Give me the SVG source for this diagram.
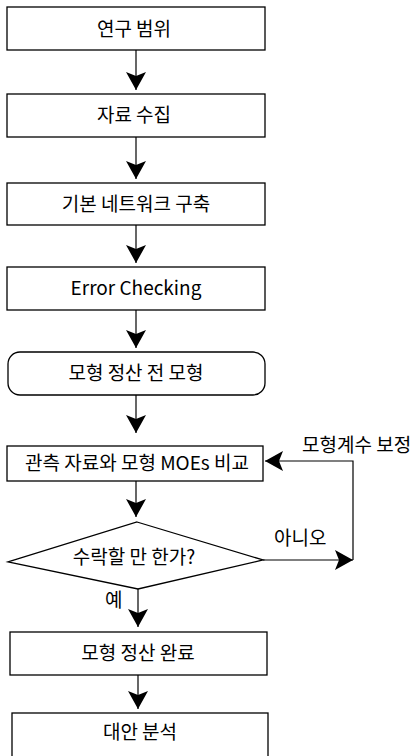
<svg xmlns="http://www.w3.org/2000/svg" width="415" height="756" viewBox="0 0 415 756">
<style>
  .box { fill: #ffffff; stroke: #000000; stroke-width: 1.3; }
  .t { font-family: "Noto Sans CJK KR", "Noto Sans", sans-serif; font-size: 19px; fill: #000000; text-anchor: middle; }
  .lbl { font-family: "Noto Sans CJK KR", "Noto Sans", sans-serif; font-size: 19px; fill: #000000; }
  .conn { fill: none; stroke: #000000; stroke-width: 1.2; }
</style>
<defs>
  <marker id="ah" markerUnits="userSpaceOnUse" markerWidth="22" markerHeight="24" viewBox="-20 -12 22 24" refX="0" refY="0" orient="auto">
    <path d="M0,0 L-18,-10 L-14,0 L-18,10 Z" fill="#000000"/>
  </marker>
</defs>
<rect width="415" height="756" fill="#ffffff"/>

<g id="connectors">
  <line class="conn" x1="136" y1="50" x2="136" y2="90" marker-end="url(#ah)"/>
  <line class="conn" x1="136" y1="137" x2="136" y2="179" marker-end="url(#ah)"/>
  <line class="conn" x1="136" y1="225" x2="136" y2="263" marker-end="url(#ah)"/>
  <line class="conn" x1="136" y1="310" x2="136" y2="348" marker-end="url(#ah)"/>
  <line class="conn" x1="136" y1="395" x2="136" y2="433" marker-end="url(#ah)"/>
  <line class="conn" x1="136" y1="481" x2="136" y2="517" marker-end="url(#ah)"/>
  <line class="conn" x1="138" y1="589" x2="138" y2="627" marker-end="url(#ah)"/>
  <line class="conn" x1="138" y1="675" x2="138" y2="709" marker-end="url(#ah)"/>
  <line class="conn" x1="263" y1="560" x2="353" y2="560" marker-end="url(#ah)"/>
  <polyline class="conn" points="353,560 353,461 265,461" marker-end="url(#ah)"/>
  <text class="lbl" x="302" y="452">모형계수 보정</text>
  <text class="lbl" x="274" y="545">아니오</text>
  <text class="lbl" x="105" y="607">예</text>
</g>

<g id="n1"><rect class="box" x="7" y="7" width="258" height="43"/><text class="t" x="134" y="36">연구 범위</text></g>
<g id="n2"><rect class="box" x="7" y="94" width="258" height="43"/><text class="t" x="134" y="122">자료 수집</text></g>
<g id="n3"><rect class="box" x="7" y="183" width="258" height="42"/><text class="t" x="136" y="211">기본 네트워크 구축</text></g>
<g id="n4"><rect class="box" x="7" y="267" width="258" height="43"/><text class="t" x="136" y="295">Error Checking</text></g>
<g id="n5"><rect class="box" x="8" y="352" width="257" height="43" rx="12" ry="12"/><text class="t" x="136" y="380">모형 정산 전 모형</text></g>
<g id="n6"><rect class="box" x="7" y="446" width="256" height="35"/><text class="t" x="137" y="470">관측 자료와 모형 MOEs 비교</text></g>
<g id="n7"><polygon class="box" points="137,522 263,560 138,589 8,562"/><text class="t" x="134" y="564">수락할 만 한가?</text></g>
<g id="n8"><rect class="box" x="10" y="632" width="257" height="43"/><text class="t" x="138" y="660">모형 정산 완료</text></g>
<g id="n9"><rect class="box" x="12" y="713" width="256" height="60"/><text class="t" x="140" y="739">대안 분석</text></g>
</svg>
